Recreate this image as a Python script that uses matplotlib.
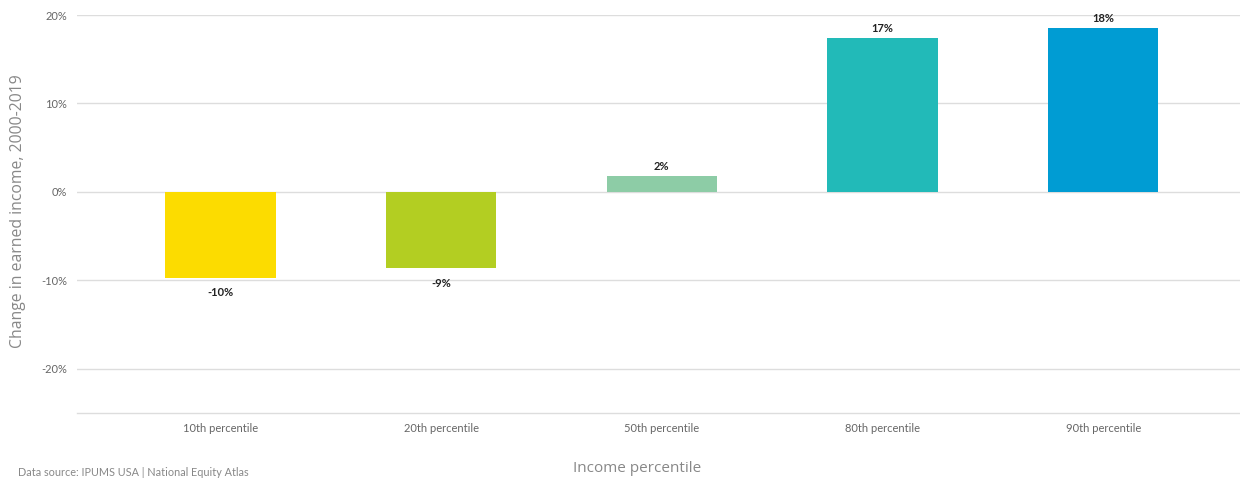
import matplotlib
matplotlib.use("Agg")
import matplotlib.pyplot as plt
from matplotlib.ticker import FuncFormatter

categories = ["10th percentile", "20th percentile", "50th percentile", "80th percentile", "90th percentile"]
values = [-9.7, -8.6, 1.8, 17.4, 18.5]
labels = ["-10%", "-9%", "2%", "17%", "18%"]
colors = ["#FCDC00", "#B3CE22", "#8DCCA6", "#22BAB8", "#009CD3"]
yticks = [-20, -10, 0, 10, 20]

plt.rcParams['font.family'] = ['Lato', 'DejaVu Sans']

fig = plt.figure(figsize=(12.4, 4.78), dpi=100)
ax = fig.add_axes([77/1240, 1-413/478, 1-77/1240, (413-15)/478])

x = list(range(len(categories)))
ax.bar(x, values, width=0.5, color=colors, zorder=3)

for xi, v, lab in zip(x, values, labels):
    if v >= 0:
        ax.annotate(lab, (xi, v), xytext=(0, 3), textcoords="offset points",
                    ha="center", va="bottom", fontsize=8, fontweight="bold", color="#222222")
    else:
        ax.annotate(lab, (xi, v), xytext=(0, -7), textcoords="offset points",
                    ha="center", va="top", fontsize=8, fontweight="bold", color="#222222")

ax.set_ylim(-25, 20)
ax.set_xlim(-0.65, 4.62)
ax.set_yticks(yticks)
ax.yaxis.set_major_formatter(FuncFormatter(lambda v, p: f"{int(v)}%"))
ax.set_xticks(x)
ax.set_xticklabels(categories)
ax.tick_params(axis="both", length=0, labelsize=8, labelcolor="#666666")
ax.tick_params(axis="y", pad=7)
ax.tick_params(axis="x", pad=7)
ax.grid(axis="y", color="#dddddd", linewidth=1, zorder=0)
for s in ["top", "right", "left"]:
    ax.spines[s].set_visible(False)
ax.spines["bottom"].set_color("#dddddd")
ax.spines["bottom"].set_linewidth(1)

fig.text(18/1240, 1-211/478, "Change in earned income, 2000-2019", rotation=90,
         ha="center", va="center", fontsize=11.3, color="#888888", family=["Open Sans", "DejaVu Sans"])
fig.text(637/1240, 1-468/478, "Income percentile", ha="center", va="center",
         fontsize=11, color="#888888", family=["Open Sans", "DejaVu Sans"])
fig.text(18/1240, 1-473/478, "Data source: IPUMS USA | National Equity Atlas", ha="left", va="center",
         fontsize=7.8, color="#888888")

fig.savefig("out.png", dpi=100, facecolor="white")
